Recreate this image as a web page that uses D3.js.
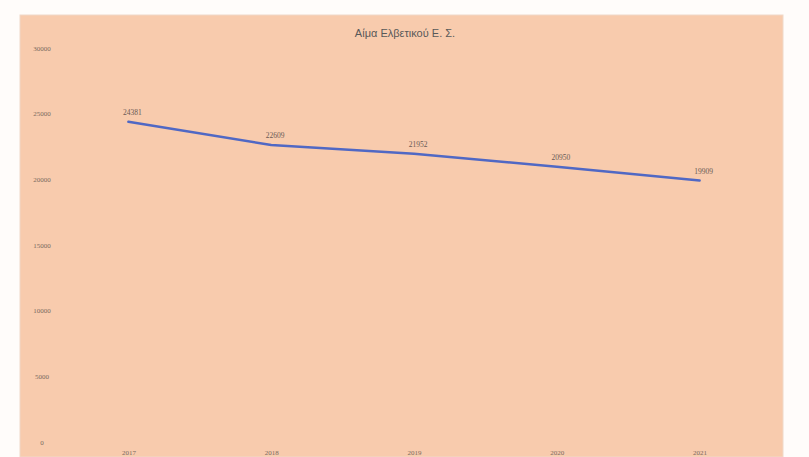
<!DOCTYPE html>
<html><head><meta charset="utf-8">
<script src="https://cdn.jsdelivr.net/npm/d3@7"></script>
<style>html,body{margin:0;padding:0;background:#fff;}svg{display:block;}</style>
</head><body>
<script>
const title = "Αίμα Ελβετικού Ε. Σ.";
const years = ["2017","2018","2019","2020","2021"];
const values = [24381, 22609, 21952, 20950, 19909];
const yTicks = [0, 5000, 10000, 15000, 20000, 25000, 30000];

const W = 809, H = 457;
const svg = d3.select("body").append("svg").attr("width", W).attr("height", H);
svg.append("rect").attr("x", 0).attr("y", 0).attr("width", W).attr("height", H).attr("fill", "#fffcfa");
svg.append("rect").attr("x", 20).attr("y", 15).attr("width", 763).attr("height", H - 15)
  .attr("fill", "#f8cbad").attr("stroke", "#f0d8c8").attr("stroke-width", 1);

const x = d3.scalePoint().domain(years).range([57, 771]).padding(0.5);
const y = d3.scaleLinear().domain([0, 30000]).range([442, 48]);

svg.append("text").attr("x", 405).attr("y", 37).attr("text-anchor", "middle")
  .attr("font-family", "Liberation Sans, Arial, sans-serif").attr("font-size", 11)
  .attr("fill", "#595959").text(title);

const yAxis = svg.append("g").attr("transform", "translate(52,0)")
  .call(d3.axisLeft(y).tickValues(yTicks).tickFormat(d3.format("d")).tickSize(0).tickPadding(0));
yAxis.select(".domain").remove();
yAxis.selectAll("text").attr("text-anchor", "middle").attr("dx", -10)
  .attr("font-family", "Liberation Serif, serif").attr("font-size", 7).attr("fill", "#7a6a60");

const xAxis = svg.append("g").attr("transform", "translate(0,448)")
  .call(d3.axisBottom(x).tickSize(0).tickPadding(2));
xAxis.select(".domain").remove();
xAxis.selectAll("text").attr("font-family", "Liberation Serif, serif").attr("font-size", 7).attr("fill", "#7a6a60");

const line = d3.line().x((d, i) => x(years[i])).y(d => y(d));
svg.append("path").datum(values).attr("d", line).attr("fill", "none")
  .attr("stroke", "#5068c4").attr("stroke-width", 2.5).attr("stroke-linecap", "round").attr("stroke-linejoin", "round");

svg.selectAll(".lbl").data(values).enter().append("text").attr("class", "lbl")
  .attr("x", (d, i) => x(years[i]) + 4).attr("y", d => y(d) - 7)
  .attr("text-anchor", "middle").attr("font-family", "Liberation Serif, serif")
  .attr("font-size", 7.5).attr("fill", "#6a5a55").text(d => d);
</script>
</body></html>
